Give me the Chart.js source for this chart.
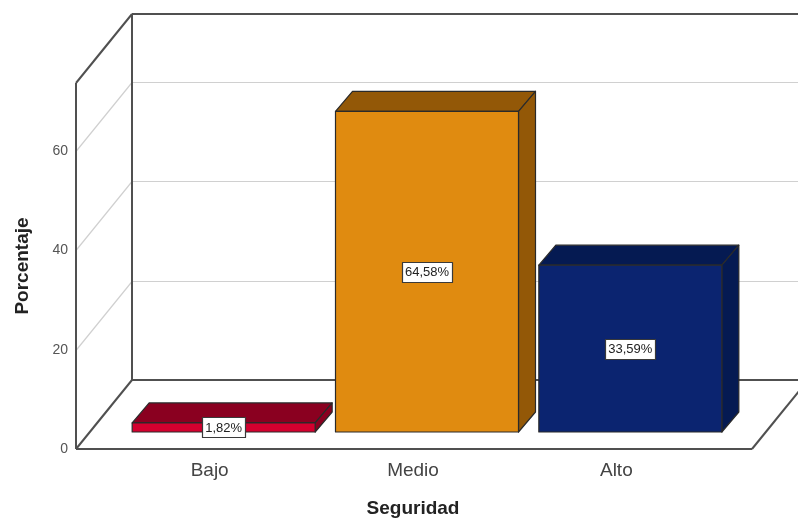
<!DOCTYPE html>
<html>
<head>
<meta charset="utf-8">
<script src="https://cdn.jsdelivr.net/npm/chart.js@4/dist/chart.umd.min.js"></script>
<style>
  html, body { margin: 0; padding: 0; background: #fff; }
  canvas { display: block; }
</style>
</head>
<body>
<canvas id="chart" width="798" height="523"></canvas>
<script>
// Categories and percentages of the "Seguridad" variable
const CATEGORIES = ['Bajo', 'Medio', 'Alto'];
const PERCENTAGES = [1.82, 64.58, 33.59];
const Y_TICKS = [0, 20, 40, 60];
const Y_MAX = 73.7;

// Face colours: front face and darker top/side shade
const FRONT_COLORS = ['#d4002f', '#e08b10', '#0b2470'];
const SHADE_COLORS = ['#8a0020', '#935807', '#051a52'];

const FONT = '"Liberation Sans", Arial, sans-serif';

// 3D box geometry: full depth of the plot box, bar position in it
const BOX = { dx: 56, dy: 69, extL: 32, extR: 34 };
const BAR_DEPTH = { offX: 14, offY: 17, dX: 17, dY: 20 };

function fmtPct(v) {
  return v.toFixed(2).replace('.', ',') + '%';
}

function line(ctx, x1, y1, x2, y2) {
  ctx.beginPath();
  ctx.moveTo(x1, y1);
  ctx.lineTo(x2, y2);
  ctx.stroke();
}

const box3d = {
  id: 'box3d',
  beforeDatasetsDraw(chart) {
    const { ctx, chartArea, scales } = chart;
    const y = scales.y;
    const W = chart.width;
    const L = chartArea.left - BOX.extL;
    const R = chartArea.right + BOX.extR;
    const T = chartArea.top;
    const B = chartArea.bottom;
    const { dx, dy } = BOX;

    ctx.save();
    // gridlines on left and back walls
    ctx.strokeStyle = '#d0d0d0';
    ctx.lineWidth = 1.2;
    Y_TICKS.forEach(v => {
      if (v === 0) return;
      const py = Math.round(y.getPixelForValue(v)) + 0.5;
      line(ctx, L, py, L + dx, py - dy);
      line(ctx, L + dx, py - dy, W, py - dy);
    });

    // box outline
    ctx.strokeStyle = '#505050';
    ctx.lineWidth = 2;
    line(ctx, L, T, L, B);
    line(ctx, L, T, L + dx, T - dy);
    line(ctx, L + dx, T - dy, W, T - dy);
    line(ctx, L + dx, T - dy, L + dx, B - dy);
    line(ctx, L + dx, B - dy, W, B - dy);
    line(ctx, L, B, L + dx, B - dy);
    line(ctx, L, B, R, B);
    line(ctx, R, B, R + dx, B - dy);

    // bars as 3D blocks placed from the bar elements
    const meta = chart.getDatasetMeta(0);
    const labels = [];
    meta.data.forEach((el, i) => {
      const { x, y: top, base, width } = el.getProps(['x', 'y', 'base', 'width'], true);
      const x0 = x - width / 2 + BAR_DEPTH.offX;
      const x1 = x + width / 2 + BAR_DEPTH.offX;
      const yT = top - BAR_DEPTH.offY;
      const yB = base - BAR_DEPTH.offY;
      const ddx = BAR_DEPTH.dX, ddy = BAR_DEPTH.dY;

      ctx.lineWidth = 1.2;
      ctx.strokeStyle = '#2a2a2a';
      ctx.lineJoin = 'round';

      // top face
      ctx.fillStyle = SHADE_COLORS[i];
      ctx.beginPath();
      ctx.moveTo(x0, yT);
      ctx.lineTo(x1, yT);
      ctx.lineTo(x1 + ddx, yT - ddy);
      ctx.lineTo(x0 + ddx, yT - ddy);
      ctx.closePath();
      ctx.fill();
      ctx.stroke();

      // side face
      ctx.beginPath();
      ctx.moveTo(x1, yT);
      ctx.lineTo(x1 + ddx, yT - ddy);
      ctx.lineTo(x1 + ddx, yB - ddy);
      ctx.lineTo(x1, yB);
      ctx.closePath();
      ctx.fill();
      ctx.stroke();

      // front face
      ctx.fillStyle = FRONT_COLORS[i];
      ctx.beginPath();
      ctx.rect(x0, yT, x1 - x0, yB - yT);
      ctx.fill();
      ctx.stroke();

      labels.push({ cx: (x0 + x1) / 2, cy: (yT + yB) / 2, text: fmtPct(PERCENTAGES[i]) });
    });

    // value labels
    ctx.font = '13px ' + FONT;
    ctx.textAlign = 'center';
    ctx.textBaseline = 'middle';
    labels.forEach(lb => {
      const tw = ctx.measureText(lb.text).width;
      const bw = Math.round(tw + 6), bh = 20;
      const bx = Math.round(lb.cx - bw / 2) + 0.5, by = Math.round(lb.cy - bh / 2) + 0.5;
      ctx.fillStyle = '#fff';
      ctx.fillRect(bx, by, bw, bh);
      ctx.strokeStyle = '#3a3a3a';
      ctx.lineWidth = 1.2;
      ctx.strokeRect(bx, by, bw, bh);
      ctx.fillStyle = '#222';
      ctx.fillText(lb.text, lb.cx, lb.cy + 1);
    });
    ctx.restore();
    return false;
  }
};

new Chart(document.getElementById('chart'), {
  type: 'bar',
  data: {
    labels: CATEGORIES,
    datasets: [{
      label: 'Porcentaje',
      data: PERCENTAGES,
      backgroundColor: FRONT_COLORS,
      barPercentage: 0.9,
      categoryPercentage: 1.0
    }]
  },
  options: {
    responsive: false,
    animation: false,
    layout: { padding: { top: 83, right: 80, bottom: 0, left: 0 } },
    plugins: {
      legend: { display: false },
      tooltip: { enabled: false }
    },
    scales: {
      x: {
        grid: { display: false, drawTicks: false },
        border: { display: false },
        ticks: { color: '#444', padding: 10, font: { family: FONT, size: 19 } },
        title: {
          display: true,
          text: 'Seguridad',
          color: '#222',
          font: { family: FONT, size: 19, weight: 'bold' },
          padding: { top: 4, bottom: 3 }
        },
        afterFit(scale) { scale.height = 74; }
      },
      y: {
        min: 0,
        max: Y_MAX,
        grid: { display: false, drawTicks: false },
        border: { display: false },
        ticks: { color: '#555', padding: 40, font: { family: FONT, size: 14 } },
        afterBuildTicks(scale) { scale.ticks = Y_TICKS.map(v => ({ value: v })); },
        title: {
          display: true,
          text: 'Porcentaje',
          color: '#222',
          font: { family: FONT, size: 19, weight: 'bold' },
          padding: { top: 11, bottom: 0 }
        },
        afterFit(scale) { scale.width = 108; }
      }
    }
  },
  plugins: [box3d]
});
</script>
</body>
</html>
